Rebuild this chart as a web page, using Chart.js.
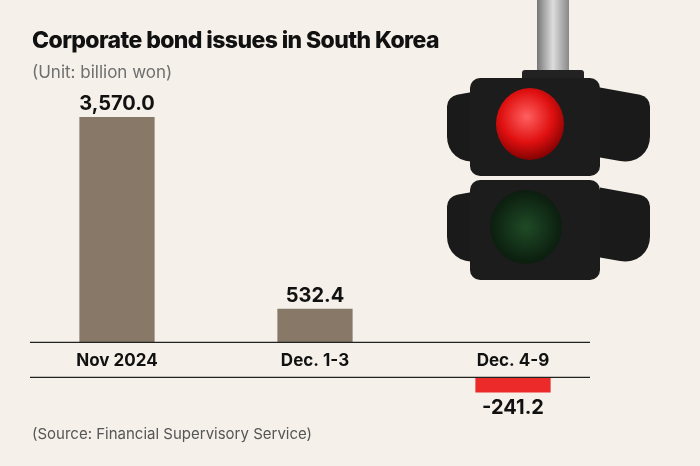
<!DOCTYPE html>
<html><head><meta charset="utf-8">
<script src="https://cdn.jsdelivr.net/npm/chart.js@4"></script>
<style>
html,body{margin:0;padding:0;background:#f5f0e9;}
#wrap{position:relative;width:700px;height:466px;font-family:Inter,"Open Sans",sans-serif;}
#title{position:absolute;left:32px;top:26px;font-size:23px;font-weight:800;color:#111;letter-spacing:-0.6px;}
#sub{position:absolute;left:32px;top:62px;font-size:17px;color:#6e6e6e;}
#src{position:absolute;left:32px;top:424px;font-size:15px;color:#555;}
canvas{position:absolute;left:0;top:0;}
.tl{position:absolute;}
</style></head><body>
<div id="wrap">
<canvas id="c" width="700" height="466"></canvas>
<div class="tl" style="left:537px;top:0;width:32px;height:78px;background:linear-gradient(90deg,#777,#ddd,#888);"></div>
<div class="tl" style="left:522px;top:70px;width:62px;height:12px;background:#222;border-radius:3px"></div>
<div class="tl" style="left:447px;top:92px;width:50px;height:70px;background:#1a1a1a;border-radius:10px 0 0 30px;transform:skewY(-10deg)"></div>
<div class="tl" style="left:600px;top:92px;width:50px;height:70px;background:#1a1a1a;border-radius:0 10px 30px 0;transform:skewY(10deg)"></div>
<div class="tl" style="left:447px;top:192px;width:50px;height:70px;background:#1a1a1a;border-radius:10px 0 0 30px;transform:skewY(-10deg)"></div>
<div class="tl" style="left:600px;top:192px;width:50px;height:70px;background:#1a1a1a;border-radius:0 10px 30px 0;transform:skewY(10deg)"></div>
<div class="tl" style="left:470px;top:78px;width:130px;height:98px;background:#1c1c1c;border-radius:10px"></div>
<div class="tl" style="left:470px;top:180px;width:130px;height:100px;background:#1c1c1c;border-radius:10px"></div>
<div class="tl" style="left:496px;top:88px;width:68px;height:72px;border-radius:50%;background:radial-gradient(circle at 45% 40%,#ff6060,#e01010 45%,#700 80%);"></div>
<div class="tl" style="left:490px;top:190px;width:72px;height:74px;border-radius:50%;background:radial-gradient(circle at 50% 50%,#1f4a26,#0e2412 60%,#080c08);"></div>
<div id="title">Corporate bond issues in South Korea</div>
<div id="sub">(Unit: billion won)</div>
<div id="src">(Source: Financial Supervisory Service)</div>
</div>
<script>
const categories = ["Nov 2024", "Dec. 1-3", "Dec. 4-9"];
const values = [3570.0, 532.4, -241.2];
const valueLabels = ["3,570.0", "532.4", "-241.2"];
const GAP = 555; // label band between the two axis lines, in value units
const barData = values.map(v => v >= 0 ? [0, v] : [-GAP, -GAP + v]);
const colors = values.map(v => v >= 0 ? "#877868" : "#ec2a2a");

const overlay = {
  id: "overlay",
  afterDatasetsDraw(chart) {
    const {ctx, scales:{x, y}} = chart;
    const y0 = y.getPixelForValue(0), y1 = y.getPixelForValue(-GAP);
    ctx.save();
    ctx.strokeStyle = "#222"; ctx.lineWidth = 1.2;
    [y0, y1].forEach(p => { ctx.beginPath(); ctx.moveTo(30, p); ctx.lineTo(590, p); ctx.stroke(); });
    ctx.fillStyle = "#111"; ctx.textAlign = "center";
    ctx.font = "bold 17px Inter, sans-serif"; ctx.textBaseline = "middle";
    categories.forEach((c, i) => ctx.fillText(c, x.getPixelForValue(i), (y0 + y1) / 2 + 1));
    ctx.font = "bold 20px Inter, sans-serif";
    values.forEach((v, i) => {
      const cx = x.getPixelForValue(i);
      if (v >= 0) { ctx.textBaseline = "bottom"; ctx.fillText(valueLabels[i], cx, y.getPixelForValue(v) - 3); }
      else { ctx.textBaseline = "top"; ctx.fillText(valueLabels[i], cx, y.getPixelForValue(-GAP + v) + 5); }
    });
    ctx.restore();
  }
};

new Chart(document.getElementById("c"), {
  type: "bar",
  data: { labels: categories, datasets: [{ data: barData, backgroundColor: colors, barPercentage: 0.76, categoryPercentage: 0.5 }] },
  options: {
    responsive: false, animation: false,
    layout: { padding: { left: 18, right: 88, top: 117, bottom: 48 } },
    plugins: { legend: { display: false }, tooltip: { enabled: false } },
    scales: {
      x: { display: false },
      y: { display: false, min: -1200, max: 3570 }
    }
  },
  plugins: [overlay]
});
</script>
</body></html>
